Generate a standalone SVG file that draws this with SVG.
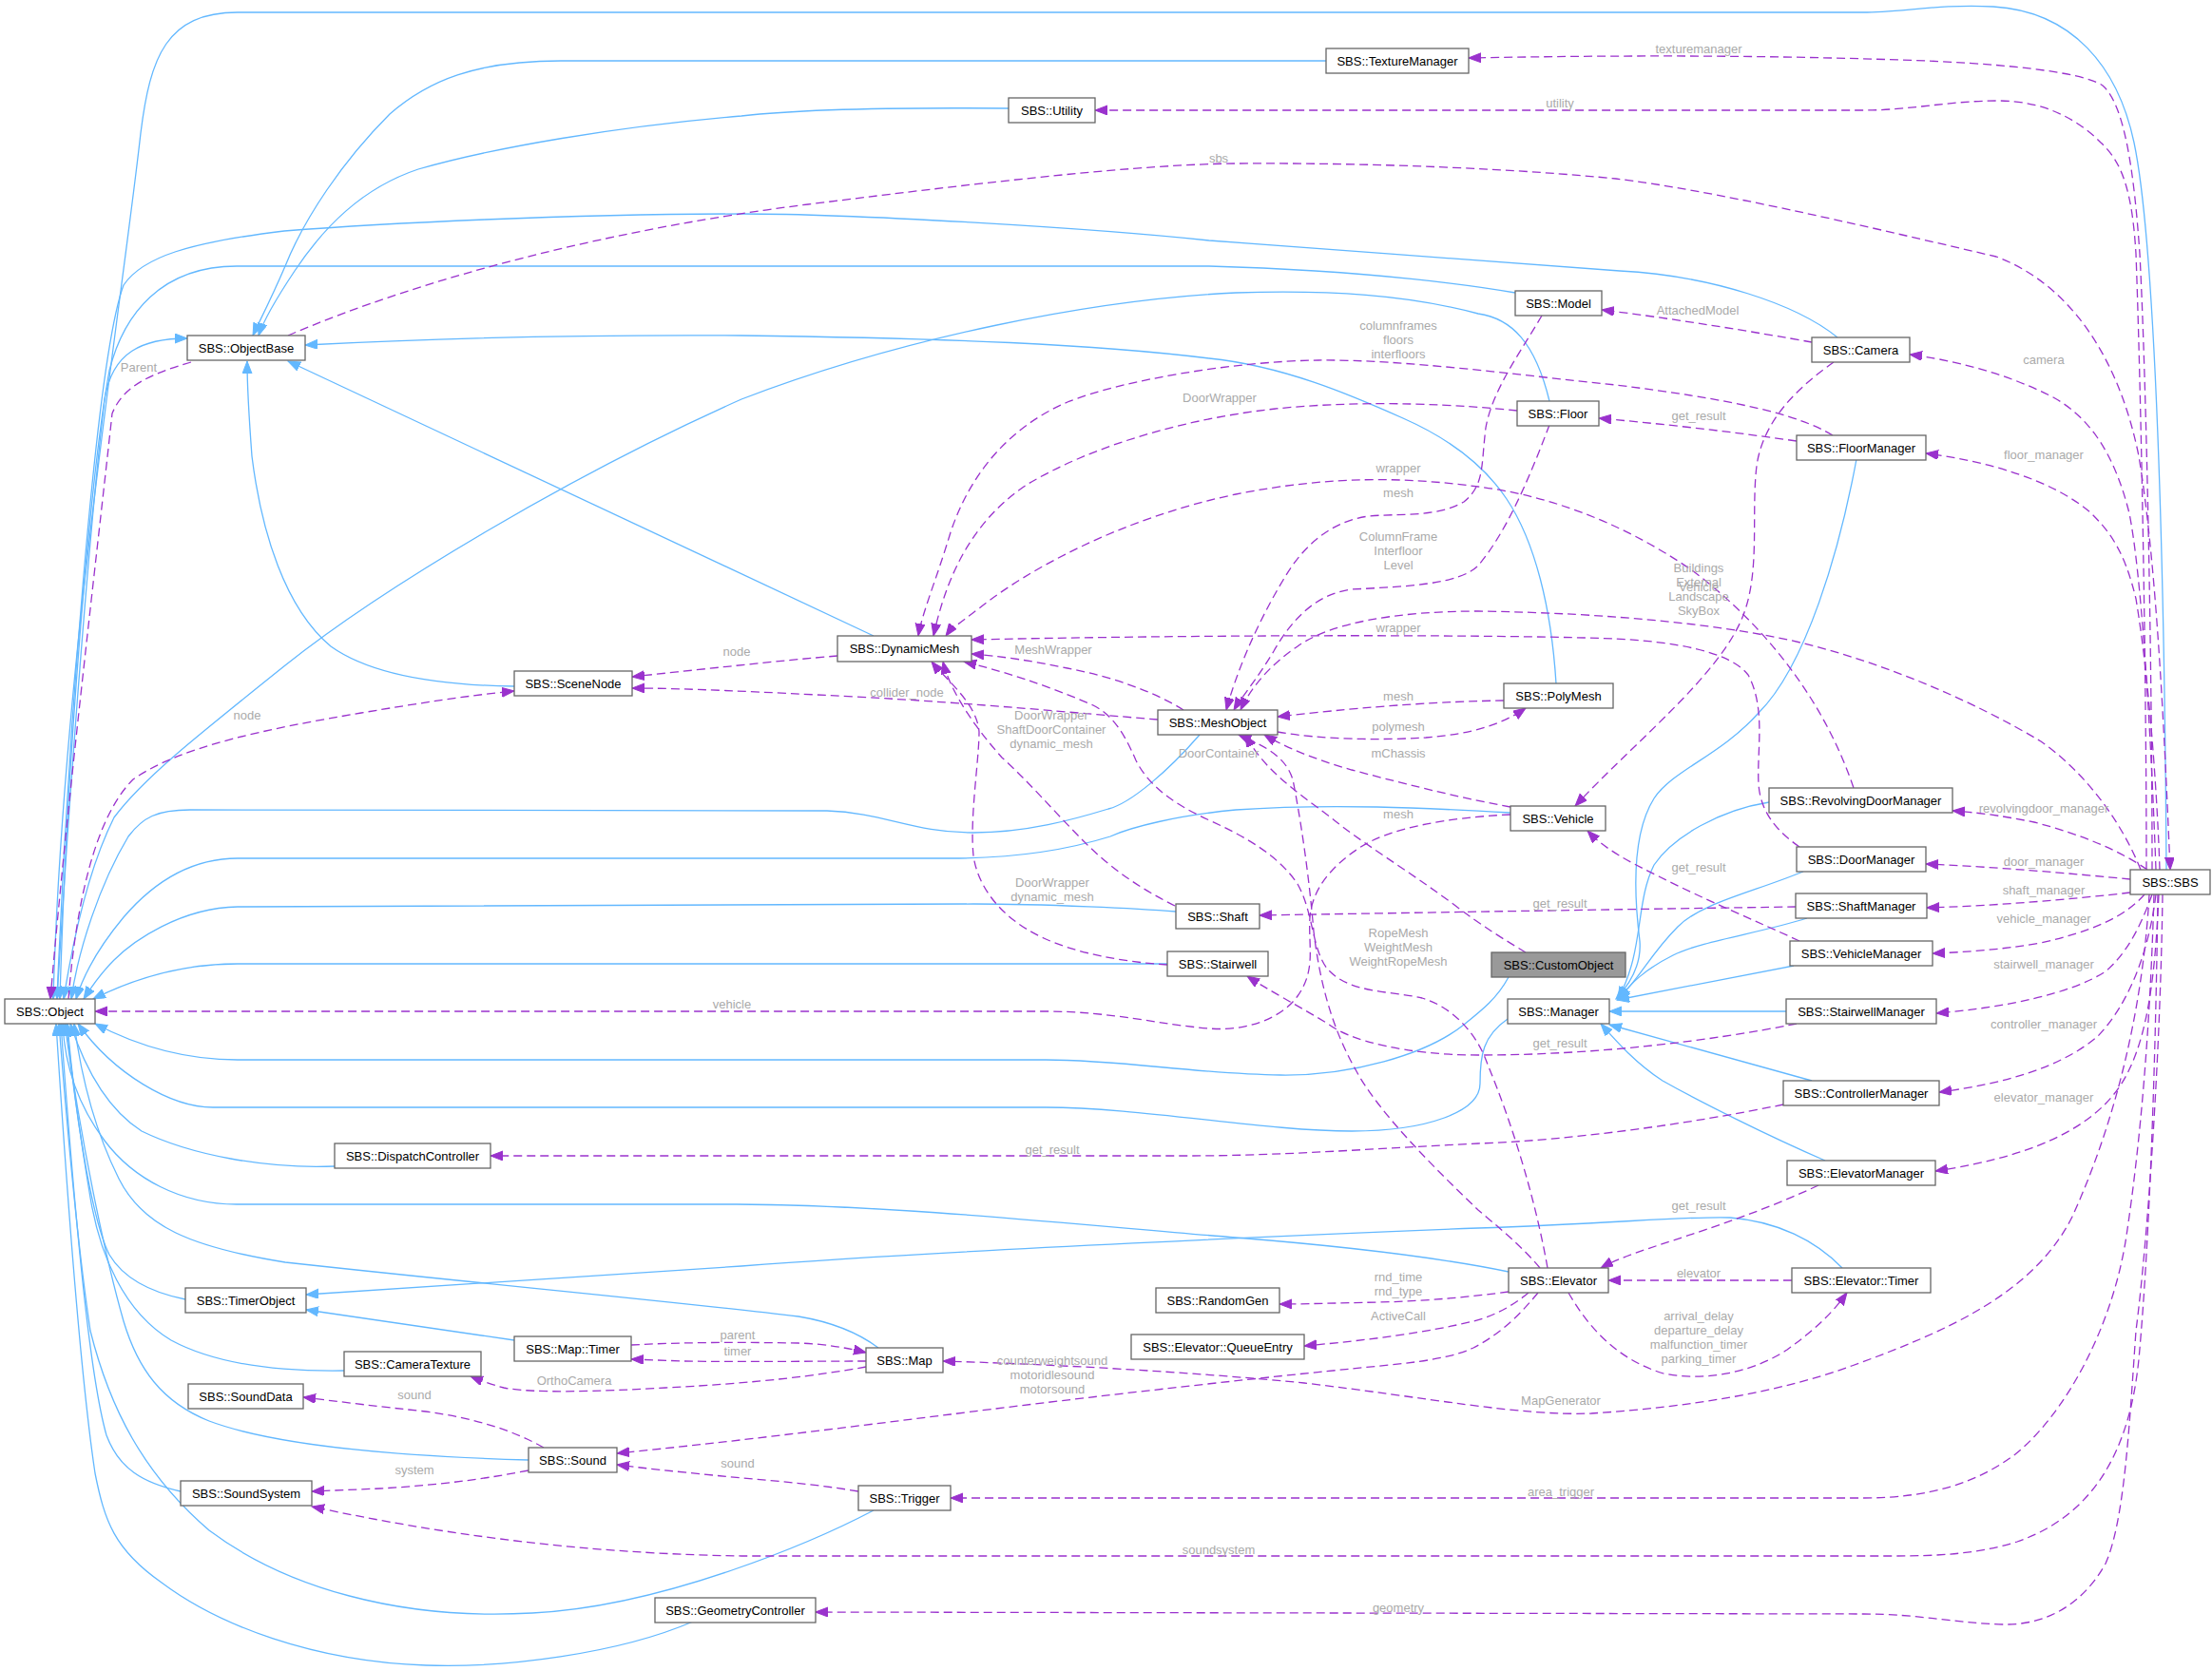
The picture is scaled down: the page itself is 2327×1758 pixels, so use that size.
<svg xmlns="http://www.w3.org/2000/svg" width="2327" height="1758" viewBox="0 0 2327 1758">
<style>
.n rect{fill:#fff;stroke:#666;stroke-width:1.3}
.cur rect{fill:#999}
.n text{font-family:"Liberation Sans",Arial,Helvetica,sans-serif;font-size:13px;fill:#000;text-anchor:middle}
.i{fill:none;stroke:#63b8ff;stroke-width:1.3;marker-end:url(#ab)}
.u{fill:none;stroke:#9a32cd;stroke-width:1.3;stroke-dasharray:9,5;marker-end:url(#ap)}
.l{font-family:"Liberation Sans",Arial,Helvetica,sans-serif;font-size:13px;fill:#aaa;text-anchor:middle}
</style>
<defs>
<marker id="ab" markerUnits="userSpaceOnUse" markerWidth="14" markerHeight="11" refX="13" refY="5" orient="auto"><path d="M0,0 L13,5 L0,10 z" fill="#63b8ff" stroke="#63b8ff" stroke-width="1"/></marker>
<marker id="ap" markerUnits="userSpaceOnUse" markerWidth="14" markerHeight="11" refX="13" refY="5" orient="auto"><path d="M0,0 L13,5 L0,10 z" fill="#9a32cd" stroke="#9a32cd" stroke-width="1"/></marker>
</defs>
<rect width="2327" height="1758" fill="#fff"/>
<g id="edges">
<path class="i" d="M2279,915 C2277,600 2268,260 2245,150 C2228,70 2180,12 2097,7 C2040,4 2000,13 1960,13 L250,13 C175,13 158,60 148,140 C128,320 66,700 56,1051"/>
<path class="i" d="M1933,355 C1890,320 1800,290 1704,285 C1600,278 1400,262 1272,253 C1150,240 900,225 780,225 C600,225 400,235 299,243 C200,255 150,270 130,300 C100,380 70,800 60,1051"/>
<path class="i" d="M1594,308 C1560,302 1450,285 1272,280 L249,280 C170,280 130,330 115,390 C95,500 70,800 63,1051"/>
<path class="i" d="M1630,422 C1615,360 1590,335 1555,330 C1480,310 1400,305 1300,308 C1150,315 950,355 780,420 C600,500 400,620 300,700 C200,780 150,820 120,860 C90,920 75,1000 67,1051"/>
<path class="i" d="M1262,773 C1230,810 1190,845 1166,851 C1130,862 1080,876 1024,876 C960,876 930,855 870,853 L200,852 C165,852 150,860 135,880 C105,930 82,1000 75,1051"/>
<path class="i" d="M1589,855 C1500,850 1400,845 1300,852 C1238,858 1190,870 1168,880 C1120,895 1060,903 1000,903 L250,903 C200,903 160,930 130,965 C105,995 88,1025 80,1051"/>
<path class="i" d="M1237,959 C1200,956 1100,951 1024,951 L250,954 C190,955 140,990 120,1010 C105,1025 95,1040 88,1051"/>
<path class="i" d="M1228,1014 L250,1014 C190,1014 140,1030 98,1051"/>
<path class="i" d="M1587,1028 C1575,1050 1560,1062 1540,1078 C1500,1110 1420,1132 1347,1131 C1260,1130 1180,1115 1100,1115 L250,1115 C190,1115 140,1098 100,1077"/>
<path class="i" d="M1586,1072 C1560,1090 1557,1110 1557,1140 C1557,1170 1500,1190 1422,1190 C1330,1190 1200,1165 1100,1165 L224,1165 C180,1165 120,1130 82,1077"/>
<path class="i" d="M352,1227 C280,1230 200,1215 149,1190 C110,1165 88,1120 74,1077"/>
<path class="i" d="M1587,1338 C1500,1320 1400,1310 1300,1302 C1150,1290 950,1268 775,1267 L249,1267 C190,1267 140,1240 110,1200 C80,1160 68,1120 66,1077"/>
<path class="i" d="M195,1367 C160,1360 130,1345 115,1320 C95,1280 78,1160 70,1077"/>
<path class="i" d="M924,1418 C900,1400 870,1390 840,1385 C700,1368 500,1350 300,1328 C200,1312 150,1290 125,1240 C100,1190 85,1130 78,1077"/>
<path class="i" d="M362,1442 C300,1443 230,1437 180,1410 C130,1380 105,1320 95,1260 C85,1200 75,1130 71,1077"/>
<path class="i" d="M556,1536 C450,1533 300,1525 220,1495 C170,1475 145,1440 130,1390 C110,1320 85,1200 68,1077"/>
<path class="i" d="M190,1569 C150,1560 125,1545 112,1510 C95,1450 80,1300 64,1077"/>
<path class="i" d="M919,1589 C860,1620 700,1690 560,1697 C420,1705 300,1670 220,1610 C150,1550 115,1480 95,1400 C80,1300 70,1180 62,1077"/>
<path class="i" d="M729,1706 C650,1740 530,1755 448,1752 C330,1748 230,1710 170,1665 C120,1630 110,1600 100,1550 C85,1450 70,1250 59,1077"/>
<path class="i" d="M60,1051 C75,800 95,550 110,420 C118,370 150,356 197,356"/>
<path class="i" d="M541,722 C460,721 390,710 348,680 C300,640 275,560 265,480 C262,440 260,410 260,380"/>
<path class="i" d="M919,669 L303,380"/>
<path class="i" d="M1395,64 L590,64 C500,64 450,85 410,120 C360,170 320,230 300,280 C285,315 272,340 266,353"/>
<path class="i" d="M1061,114 C950,113 850,114 780,122 C650,133 520,155 440,178 C380,198 340,240 310,285 C290,315 278,335 272,353"/>
<path class="i" d="M1637,719 C1632,640 1615,570 1585,525 C1555,480 1510,455 1476,440 C1420,415 1350,385 1272,377 C1150,362 1000,356 780,353 C600,352 450,356 321,363"/>
<path class="i" d="M1953,483 C1935,580 1900,700 1850,750 C1810,795 1760,810 1740,840 C1715,880 1720,950 1725,990 C1727,1015 1715,1035 1700,1051"/>
<path class="i" d="M1861,844 C1810,852 1760,880 1740,910 C1720,950 1730,1000 1702,1051"/>
<path class="i" d="M1897,917 C1840,940 1790,950 1765,975 C1735,1005 1725,1030 1702,1051"/>
<path class="i" d="M1901,966 C1850,982 1790,990 1760,1005 C1730,1020 1715,1035 1703,1051"/>
<path class="i" d="M1887,1016 L1701,1052"/>
<path class="i" d="M1879,1064 L1693,1064"/>
<path class="i" d="M1906,1137 L1693,1078"/>
<path class="i" d="M1920,1221 C1860,1195 1790,1160 1749,1137 C1720,1118 1700,1095 1684,1077"/>
<path class="i" d="M1938,1334 C1910,1305 1870,1285 1820,1281 C1780,1279 1700,1287 1555,1292 C1400,1298 1000,1315 780,1332 C600,1345 450,1355 322,1362"/>
<path class="i" d="M541,1410 L322,1378"/>
<path class="u" d="M2264,915 C2264,700 2258,400 2251,267 C2245,180 2235,110 2212,90 C2190,75 2100,66 1998,63 C1850,58 1700,58 1545,61"/>
<path class="u" d="M2258,915 C2258,700 2252,400 2247,267 C2243,200 2232,170 2210,150 C2185,125 2150,106 2102,106 C2050,106 2010,116 1960,116 L1152,116"/>
<path class="u" d="M303,353 C450,290 650,240 850,215 C1050,190 1200,173 1300,172 C1450,171 1600,178 1700,188 C1800,200 1950,235 2100,270 C2180,300 2230,380 2250,480 C2270,600 2278,800 2283,915"/>
<path class="u" d="M201,381 C160,393 130,405 118,435 C100,600 70,850 53,1051"/>
<path class="u" d="M2268,915 C2262,750 2252,600 2240,540 C2225,480 2200,440 2160,418 C2110,392 2050,378 2009,373"/>
<path class="u" d="M1906,360 C1850,350 1760,335 1685,326"/>
<path class="u" d="M1929,381 C1895,405 1855,440 1848,490 C1842,540 1852,600 1834,647 C1810,710 1720,780 1657,848"/>
<path class="u" d="M1890,464 C1820,454 1750,446 1682,440"/>
<path class="u" d="M2272,915 C2270,850 2262,720 2247,630 C2235,580 2220,560 2200,540 C2160,505 2090,485 2026,477"/>
<path class="u" d="M1928,458 C1890,435 1820,420 1700,405 C1600,395 1480,378 1387,379 C1300,380 1180,400 1123,423 C1060,450 1020,500 1000,560 C985,610 970,645 966,669"/>
<path class="u" d="M1596,432 C1540,426 1440,420 1342,430 C1250,440 1150,468 1080,510 C1020,550 995,610 982,669"/>
<path class="u" d="M1950,829 C1920,740 1860,660 1780,600 C1700,545 1620,520 1555,512 C1480,502 1400,500 1300,520 C1180,545 1080,600 1030,640 C1010,655 1000,662 995,669"/>
<path class="u" d="M1893,891 C1870,875 1852,855 1850,825 C1848,790 1858,745 1839,710 C1820,685 1760,675 1699,672 C1600,668 1300,667 1022,673"/>
<path class="u" d="M1245,747 C1215,728 1170,712 1123,703 C1085,695 1050,690 1022,688"/>
<path class="u" d="M881,690 C820,695 740,704 665,712"/>
<path class="u" d="M1218,757 C1130,750 1030,740 900,733 C800,728 720,724 665,724"/>
<path class="u" d="M72,1051 C80,950 100,860 140,820 C190,785 280,767 380,750 C440,740 490,732 541,727"/>
<path class="u" d="M1622,332 C1600,370 1570,410 1563,450 C1558,490 1562,510 1540,528 C1510,545 1470,540 1440,543 C1400,548 1370,575 1350,610 C1320,660 1300,710 1290,747"/>
<path class="u" d="M1630,447 C1610,500 1585,560 1555,595 C1535,615 1480,617 1422,620 C1385,625 1360,650 1340,685 C1322,715 1305,735 1298,747"/>
<path class="u" d="M2252,915 C2230,860 2190,810 2147,780 C2080,740 1990,700 1898,677 C1820,658 1700,645 1555,643 C1470,643 1400,655 1365,680 C1335,700 1315,725 1305,747"/>
<path class="u" d="M1582,737 C1520,738 1450,742 1344,754"/>
<path class="u" d="M1344,770 C1390,778 1450,779 1500,776 C1550,772 1580,762 1605,745"/>
<path class="u" d="M1589,849 C1540,840 1490,828 1422,810 C1380,798 1350,785 1330,773"/>
<path class="u" d="M1605,1002 C1585,990 1560,975 1530,952 C1480,915 1430,885 1400,860 C1360,830 1330,810 1310,773"/>
<path class="u" d="M1620,1334 C1600,1310 1575,1290 1555,1273 C1510,1230 1450,1170 1427,1127 C1400,1080 1388,1030 1382,980 C1377,920 1368,860 1360,820 C1352,795 1330,785 1303,773"/>
<path class="u" d="M1628,1334 C1615,1260 1590,1180 1565,1120 C1555,1090 1530,1060 1496,1050 C1460,1042 1420,1045 1397,1020 C1380,1000 1382,960 1365,930 C1345,900 1310,880 1270,862 C1240,848 1210,830 1195,800 C1182,770 1170,752 1150,742 C1100,720 1050,705 1014,696"/>
<path class="u" d="M1236,953 C1200,935 1170,915 1140,885 C1110,855 1080,820 1054,797 C1030,770 1000,730 992,696"/>
<path class="u" d="M1228,1015 C1180,1012 1130,1002 1098,987 C1050,965 1028,930 1024,900 C1020,860 1030,800 1030,770 C1028,740 995,715 980,696"/>
<path class="u" d="M1589,857 C1520,860 1460,872 1430,892 C1395,915 1380,940 1378,965 C1376,995 1385,1020 1365,1048 C1345,1075 1305,1085 1272,1082 C1220,1078 1170,1064 1100,1064 L100,1064"/>
<path class="u" d="M1893,990 C1850,970 1790,945 1745,922 C1715,907 1690,895 1670,874"/>
<path class="u" d="M1889,954 C1750,956 1500,960 1325,963"/>
<path class="u" d="M1890,1077 C1800,1095 1680,1110 1555,1110 C1480,1110 1420,1095 1397,1077 C1360,1055 1335,1042 1312,1027"/>
<path class="u" d="M1876,1162 C1780,1182 1650,1200 1555,1203 C1450,1208 1350,1216 1250,1216 L516,1216"/>
<path class="u" d="M1913,1247 C1860,1272 1800,1292 1760,1305 C1720,1318 1700,1325 1684,1334"/>
<path class="u" d="M1885,1347 L1692,1347"/>
<path class="u" d="M1650,1360 C1670,1395 1700,1430 1750,1445 C1800,1455 1850,1440 1880,1420 C1905,1402 1925,1385 1943,1360"/>
<path class="u" d="M1587,1359 C1550,1364 1500,1369 1450,1370 C1400,1371 1370,1372 1346,1372"/>
<path class="u" d="M1608,1360 C1590,1375 1570,1385 1550,1390 C1500,1402 1440,1410 1372,1416"/>
<path class="u" d="M1618,1360 C1595,1388 1575,1405 1550,1418 C1520,1432 1470,1435 1422,1440 C1300,1452 1100,1475 1000,1488 C880,1503 760,1518 649,1529"/>
<path class="u" d="M2261,941 C2255,1050 2230,1170 2180,1280 C2140,1360 2050,1400 1948,1437 C1870,1465 1780,1480 1674,1487 C1600,1490 1500,1470 1372,1455 C1250,1443 1100,1435 992,1432"/>
<path class="u" d="M2266,941 C2262,1080 2252,1200 2237,1300 C2222,1400 2170,1490 2120,1530 C2080,1560 2030,1576 1960,1576 L1000,1576"/>
<path class="u" d="M2270,941 C2268,1100 2262,1300 2250,1430 C2240,1530 2200,1595 2122,1622 C2080,1635 2040,1637 1990,1637 L780,1637 C650,1635 500,1622 328,1585"/>
<path class="u" d="M2275,941 C2273,1100 2260,1300 2247,1400 C2240,1500 2235,1600 2215,1645 C2190,1690 2150,1710 2107,1709 C2060,1708 2020,1698 1960,1698 L858,1696"/>
<path class="u" d="M2259,915 C2230,895 2190,878 2140,865 C2100,857 2080,855 2054,853"/>
<path class="u" d="M2241,925 C2180,919 2100,912 2026,909"/>
<path class="u" d="M2241,939 C2180,946 2100,953 2027,955"/>
<path class="u" d="M2256,941 C2235,965 2200,980 2147,992 C2100,1000 2060,1002 2033,1003"/>
<path class="u" d="M2264,941 C2250,980 2235,1005 2215,1022 C2180,1045 2110,1060 2037,1066"/>
<path class="u" d="M2268,941 C2262,990 2245,1050 2207,1090 C2170,1122 2110,1140 2040,1149"/>
<path class="u" d="M2271,941 C2268,1010 2262,1080 2240,1125 C2215,1180 2150,1215 2036,1232"/>
<path class="u" d="M572,1523 C540,1505 500,1492 448,1485 C400,1480 360,1475 319,1470"/>
<path class="u" d="M556,1547 C500,1558 450,1563 400,1566 L328,1569"/>
<path class="u" d="M903,1569 C850,1560 800,1557 750,1552 C710,1548 680,1545 649,1541"/>
<path class="u" d="M664,1415 C720,1412 780,1412 840,1413 C870,1414 890,1418 911,1423"/>
<path class="u" d="M911,1432 C850,1432 780,1433 720,1432 L664,1430"/>
<path class="u" d="M911,1438 C860,1447 800,1455 700,1460 C630,1464 560,1466 530,1460 C515,1456 505,1452 495,1448"/>
</g>
<g id="edge-labels">
<text class="l" x="1787" y="56">texturemanager</text>
<text class="l" x="1641" y="113">utility</text>
<text class="l" x="1282" y="171">sbs</text>
<text class="l" x="1471" y="347">columnframes<tspan x="1471" dy="15">floors</tspan><tspan x="1471" dy="15">interfloors</tspan></text>
<text class="l" x="1786" y="331">AttachedModel</text>
<text class="l" x="2150" y="383">camera</text>
<text class="l" x="146" y="391">Parent</text>
<text class="l" x="1283" y="423">DoorWrapper</text>
<text class="l" x="1787" y="442">get_result</text>
<text class="l" x="2150" y="483">floor_manager</text>
<text class="l" x="1471" y="497">wrapper</text>
<text class="l" x="1471" y="523">mesh</text>
<text class="l" x="1471" y="569">ColumnFrame<tspan x="1471" dy="15">Interfloor</tspan><tspan x="1471" dy="15">Level</tspan></text>
<text class="l" x="1787" y="602">Buildings<tspan x="1787" dy="15">External</tspan><tspan x="1787" dy="15">Landscape</tspan><tspan x="1787" dy="15">SkyBox</tspan></text>
<text class="l" x="1787" y="622">Vehicle</text>
<text class="l" x="1471" y="665">wrapper</text>
<text class="l" x="775" y="690">node</text>
<text class="l" x="1108" y="688">MeshWrapper</text>
<text class="l" x="954" y="733">collider_node</text>
<text class="l" x="1471" y="737">mesh</text>
<text class="l" x="260" y="757">node</text>
<text class="l" x="1106" y="757">DoorWrapper<tspan x="1106" dy="15">ShaftDoorContainer</tspan><tspan x="1106" dy="15">dynamic_mesh</tspan></text>
<text class="l" x="1471" y="769">polymesh</text>
<text class="l" x="1471" y="797">mChassis</text>
<text class="l" x="1282" y="797">DoorContainer</text>
<text class="l" x="2150" y="855">revolvingdoor_manager</text>
<text class="l" x="1471" y="861">mesh</text>
<text class="l" x="2150" y="911">door_manager</text>
<text class="l" x="1787" y="917">get_result</text>
<text class="l" x="1107" y="933">DoorWrapper<tspan x="1107" dy="15">dynamic_mesh</tspan></text>
<text class="l" x="2150" y="941">shaft_manager</text>
<text class="l" x="1641" y="955">get_result</text>
<text class="l" x="2150" y="971">vehicle_manager</text>
<text class="l" x="1471" y="986">RopeMesh<tspan x="1471" dy="15">WeightMesh</tspan><tspan x="1471" dy="15">WeightRopeMesh</tspan></text>
<text class="l" x="2150" y="1019">stairwell_manager</text>
<text class="l" x="770" y="1061">vehicle</text>
<text class="l" x="2150" y="1082">controller_manager</text>
<text class="l" x="1641" y="1102">get_result</text>
<text class="l" x="2150" y="1159">elevator_manager</text>
<text class="l" x="1107" y="1214">get_result</text>
<text class="l" x="1787" y="1273">get_result</text>
<text class="l" x="1787" y="1344">elevator</text>
<text class="l" x="1471" y="1348">rnd_time<tspan x="1471" dy="15">rnd_type</tspan></text>
<text class="l" x="1787" y="1389">arrival_delay<tspan x="1787" dy="15">departure_delay</tspan><tspan x="1787" dy="15">malfunction_timer</tspan><tspan x="1787" dy="15">parking_timer</tspan></text>
<text class="l" x="1471" y="1389">ActiveCall</text>
<text class="l" x="776" y="1409">parent</text>
<text class="l" x="776" y="1426">timer</text>
<text class="l" x="1107" y="1436">counterweightsound<tspan x="1107" dy="15">motoridlesound</tspan><tspan x="1107" dy="15">motorsound</tspan></text>
<text class="l" x="604" y="1457">OrthoCamera</text>
<text class="l" x="436" y="1472">sound</text>
<text class="l" x="1642" y="1478">MapGenerator</text>
<text class="l" x="776" y="1544">sound</text>
<text class="l" x="436" y="1551">system</text>
<text class="l" x="1642" y="1574">area_trigger</text>
<text class="l" x="1282" y="1635">soundsystem</text>
<text class="l" x="1471" y="1696">geometry</text>
</g>
<g id="node-object" class="n"><rect x="5" y="1051" width="95" height="26"/><text x="52.5" y="1068.5">SBS::Object</text></g>
<g id="node-objectbase" class="n"><rect x="197" y="353" width="124" height="26"/><text x="259" y="370.5">SBS::ObjectBase</text></g>
<g id="node-texturemanager" class="n"><rect x="1395" y="51" width="150" height="26"/><text x="1470" y="68.5">SBS::TextureManager</text></g>
<g id="node-utility" class="n"><rect x="1061" y="103" width="91" height="26"/><text x="1106.5" y="120.5">SBS::Utility</text></g>
<g id="node-model" class="n"><rect x="1594" y="306" width="91" height="26"/><text x="1639.5" y="323.5">SBS::Model</text></g>
<g id="node-camera" class="n"><rect x="1906" y="355" width="103" height="26"/><text x="1957.5" y="372.5">SBS::Camera</text></g>
<g id="node-floor" class="n"><rect x="1596" y="422" width="86" height="26"/><text x="1639" y="439.5">SBS::Floor</text></g>
<g id="node-floormanager" class="n"><rect x="1890" y="458" width="136" height="26"/><text x="1958" y="475.5">SBS::FloorManager</text></g>
<g id="node-dynamicmesh" class="n"><rect x="881" y="669" width="141" height="27"/><text x="951.5" y="687">SBS::DynamicMesh</text></g>
<g id="node-scenenode" class="n"><rect x="541" y="706" width="124" height="26"/><text x="603" y="723.5">SBS::SceneNode</text></g>
<g id="node-meshobject" class="n"><rect x="1218" y="747" width="126" height="26"/><text x="1281" y="764.5">SBS::MeshObject</text></g>
<g id="node-polymesh" class="n"><rect x="1582" y="719" width="115" height="26"/><text x="1639.5" y="736.5">SBS::PolyMesh</text></g>
<g id="node-revolvingdoormanager" class="n"><rect x="1861" y="829" width="193" height="26"/><text x="1957.5" y="846.5">SBS::RevolvingDoorManager</text></g>
<g id="node-vehicle" class="n"><rect x="1589" y="848" width="100" height="26"/><text x="1639" y="865.5">SBS::Vehicle</text></g>
<g id="node-doormanager" class="n"><rect x="1890" y="891" width="136" height="26"/><text x="1958" y="908.5">SBS::DoorManager</text></g>
<g id="node-sbs" class="n"><rect x="2241" y="915" width="84" height="26"/><text x="2283" y="932.5">SBS::SBS</text></g>
<g id="node-shaft" class="n"><rect x="1237" y="951" width="88" height="26"/><text x="1281" y="968.5">SBS::Shaft</text></g>
<g id="node-shaftmanager" class="n"><rect x="1889" y="940" width="138" height="26"/><text x="1958" y="957.5">SBS::ShaftManager</text></g>
<g id="node-vehiclemanager" class="n"><rect x="1883" y="990" width="150" height="26"/><text x="1958" y="1007.5">SBS::VehicleManager</text></g>
<g id="node-stairwell" class="n"><rect x="1228" y="1001" width="106" height="26"/><text x="1281" y="1018.5">SBS::Stairwell</text></g>
<g id="node-customobject" class="n cur"><rect x="1569" y="1002" width="141" height="26"/><text x="1639.5" y="1019.5">SBS::CustomObject</text></g>
<g id="node-manager" class="n"><rect x="1586" y="1051" width="107" height="26"/><text x="1639.5" y="1068.5">SBS::Manager</text></g>
<g id="node-stairwellmanager" class="n"><rect x="1879" y="1051" width="158" height="26"/><text x="1958" y="1068.5">SBS::StairwellManager</text></g>
<g id="node-controllermanager" class="n"><rect x="1876" y="1137" width="164" height="26"/><text x="1958" y="1154.5">SBS::ControllerManager</text></g>
<g id="node-dispatchcontroller" class="n"><rect x="352" y="1203" width="164" height="26"/><text x="434" y="1220.5">SBS::DispatchController</text></g>
<g id="node-elevatormanager" class="n"><rect x="1880" y="1221" width="156" height="26"/><text x="1958" y="1238.5">SBS::ElevatorManager</text></g>
<g id="node-elevator" class="n"><rect x="1587" y="1334" width="105" height="26"/><text x="1639.5" y="1351.5">SBS::Elevator</text></g>
<g id="node-elevatortimer" class="n"><rect x="1885" y="1334" width="146" height="26"/><text x="1958" y="1351.5">SBS::Elevator::Timer</text></g>
<g id="node-randomgen" class="n"><rect x="1216" y="1355" width="130" height="26"/><text x="1281" y="1372.5">SBS::RandomGen</text></g>
<g id="node-timerobject" class="n"><rect x="195" y="1355" width="127" height="26"/><text x="258.5" y="1372.5">SBS::TimerObject</text></g>
<g id="node-queueentry" class="n"><rect x="1190" y="1404" width="182" height="26"/><text x="1281" y="1421.5">SBS::Elevator::QueueEntry</text></g>
<g id="node-maptimer" class="n"><rect x="541" y="1406" width="123" height="26"/><text x="602.5" y="1423.5">SBS::Map::Timer</text></g>
<g id="node-map" class="n"><rect x="911" y="1418" width="81" height="26"/><text x="951.5" y="1435.5">SBS::Map</text></g>
<g id="node-cameratexture" class="n"><rect x="362" y="1422" width="144" height="26"/><text x="434" y="1439.5">SBS::CameraTexture</text></g>
<g id="node-sounddata" class="n"><rect x="198" y="1456" width="121" height="26"/><text x="258.5" y="1473.5">SBS::SoundData</text></g>
<g id="node-sound" class="n"><rect x="556" y="1523" width="93" height="26"/><text x="602.5" y="1540.5">SBS::Sound</text></g>
<g id="node-soundsystem" class="n"><rect x="190" y="1558" width="138" height="26"/><text x="259" y="1575.5">SBS::SoundSystem</text></g>
<g id="node-trigger" class="n"><rect x="903" y="1563" width="97" height="26"/><text x="951.5" y="1580.5">SBS::Trigger</text></g>
<g id="node-geometrycontroller" class="n"><rect x="689" y="1681" width="169" height="26"/><text x="773.5" y="1698.5">SBS::GeometryController</text></g>
</svg>
